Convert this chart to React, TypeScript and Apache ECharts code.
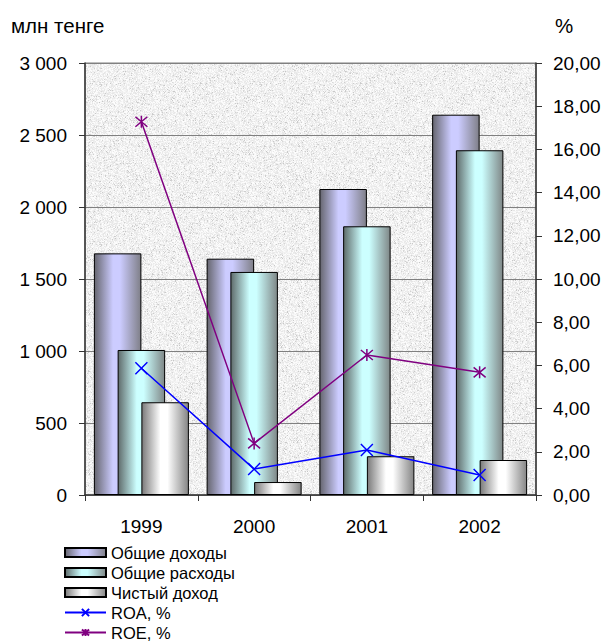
import React, { useEffect, useRef } from "react";
import * as echarts from "echarts";

const years = ["1999", "2000", "2001", "2002"];
const totalIncome = [1678, 1641, 2125, 2641];
const totalExpenses = [1007, 1549, 1866, 2394];
const netIncome = [644, 90, 269, 243];
const roa = [5.87, 1.2, 2.08, 0.93];
const roe = [17.28, 2.39, 6.48, 5.68];

const seriesNames = ["Общие доходы", "Общие расходы", "Чистый доход", "ROA, %", "ROE, %"];
const leftAxisName = "млн тенге";
const rightAxisName = "%";
const leftMin = 0, leftMax = 3000, leftStep = 500;
const rightMin = 0, rightMax = 20, rightStep = 2;

const FONT = '"Liberation Sans", Arial, sans-serif';

function makeTexture(): string {
  const size = 160;
  const c = document.createElement("canvas");
  c.width = size;
  c.height = size;
  const ctx = c.getContext("2d");
  if (!ctx) return "";
  const img = ctx.createImageData(size, size);
  let seed = 12345;
  const rnd = () => {
    seed = (seed * 1103515245 + 12345) & 0x7fffffff;
    return seed / 0x7fffffff;
  };
  for (let i = 0; i < size * size; i++) {
    let v = 228 + rnd() * 26;
    const r = rnd();
    if (r < 0.06) v = 198 + rnd() * 20;
    else if (r > 0.94) v = 252;
    img.data[i * 4] = v;
    img.data[i * 4 + 1] = v;
    img.data[i * 4 + 2] = v;
    img.data[i * 4 + 3] = 255;
  }
  ctx.putImageData(img, 0, 0);
  return c.toDataURL("image/png");
}

function barGradient(edgeL: string, mid: string, edgeR: string) {
  return new echarts.graphic.LinearGradient(0, 0, 1, 0, [
    { offset: 0, color: edgeL },
    { offset: 0.4, color: mid },
    { offset: 0.55, color: mid },
    { offset: 1, color: edgeR },
  ]);
}

const crossPath = "path://M0,0L10,10M10,0L0,10";
const starPath = "path://M0,0L10,10M10,0L0,10M5,-1L5,11";

export default function App() {
  const ref = useRef<HTMLDivElement>(null);
  useEffect(() => {
    document.body.style.margin = "0";
    if (!ref.current) return;
    const chart = echarts.init(ref.current, null, { renderer: "svg" });
    const tex = makeTexture();
    const bg: any = tex ? { image: tex, repeat: "repeat" } : "#e6e6e6";
    const axisLabel = { color: "#000", fontSize: 19, fontFamily: FONT };
    chart.setOption({
      animation: false,
      textStyle: { fontFamily: FONT },
      grid: {
        left: 85,
        right: 69,
        top: 63,
        bottom: 147,
        show: true,
        backgroundColor: bg,
        borderColor: "#808080",
        borderWidth: 1,
      },
      graphic: [
        { type: "text", left: 11, top: 15, style: { text: leftAxisName, fontSize: 20.5, fontFamily: FONT, fill: "#000" } },
        { type: "text", left: 555, top: 15, style: { text: rightAxisName, fontSize: 20.5, fontFamily: FONT, fill: "#000" } },
      ],
      legend: {
        orient: "vertical",
        left: 64,
        top: 544,
        height: 130,
        padding: 0,
        itemWidth: 41,
        itemHeight: 9,
        itemGap: 3,
        textStyle: { color: "#000", fontSize: 16.5, fontFamily: FONT, lineHeight: 16 },
        data: [
          { name: seriesNames[0], icon: "rect" },
          { name: seriesNames[1], icon: "rect" },
          { name: seriesNames[2], icon: "rect" },
          { name: seriesNames[3] },
          { name: seriesNames[4] },
        ],
      },
      xAxis: {
        type: "category",
        data: years,
        axisLine: { lineStyle: { color: "#333", width: 1.5 } },
        axisTick: { show: true, length: 6, lineStyle: { color: "#333" } },
        axisLabel: { ...axisLabel, margin: 22 },
      },
      yAxis: [
        {
          type: "value",
          min: leftMin,
          max: leftMax,
          interval: leftStep,
          axisLine: { show: true, lineStyle: { color: "#333", width: 1.5 } },
          axisTick: { show: true, length: 6, lineStyle: { color: "#333" } },
          axisLabel: {
            ...axisLabel,
            margin: 18,
            formatter: (v: number) => String(v).replace(/\B(?=(\d{3})+(?!\d))/g, " "),
          },
          splitLine: { show: true, lineStyle: { color: "#808080", width: 1 } },
        },
        {
          type: "value",
          min: rightMin,
          max: rightMax,
          interval: rightStep,
          position: "right",
          axisLine: { show: true, lineStyle: { color: "#333", width: 1.5 } },
          axisTick: { show: true, length: 6, lineStyle: { color: "#333" } },
          axisLabel: {
            ...axisLabel,
            margin: 17,
            formatter: (v: number) => v.toFixed(2).replace(".", ","),
          },
          splitLine: { show: false },
        },
      ],
      series: [
        {
          name: seriesNames[0],
          type: "bar",
          data: totalIncome,
          barWidth: 47.5,
          barGap: "-50%",
          itemStyle: {
            color: barGradient("#66666f", "#ccccff", "#7f7f88"),
            borderColor: "#000",
            borderWidth: 1,
          },
        },
        {
          name: seriesNames[1],
          type: "bar",
          data: totalExpenses,
          barWidth: 47.5,
          barGap: "-50%",
          itemStyle: {
            color: barGradient("#5f6b6b", "#ccffff", "#7f8787"),
            borderColor: "#000",
            borderWidth: 1,
          },
        },
        {
          name: seriesNames[2],
          type: "bar",
          data: netIncome,
          barWidth: 47.5,
          barGap: "-50%",
          itemStyle: {
            color: barGradient("#7a7a7a", "#ffffff", "#858585"),
            borderColor: "#000",
            borderWidth: 1,
          },
        },
        {
          name: seriesNames[3],
          type: "line",
          yAxisIndex: 1,
          data: roa,
          symbol: crossPath,
          symbolSize: 12,
          lineStyle: { color: "#0000ff", width: 1.5 },
          itemStyle: { color: "#0000ff", borderColor: "#0000ff", borderWidth: 1.5 },
        },
        {
          name: seriesNames[4],
          type: "line",
          yAxisIndex: 1,
          data: roe,
          symbol: starPath,
          symbolSize: 12,
          lineStyle: { color: "#800080", width: 1.5 },
          itemStyle: { color: "#800080", borderColor: "#800080", borderWidth: 1.5 },
        },
      ],
    });
    return () => chart.dispose();
  }, []);
  return <div ref={ref} style={{ width: 605, height: 642 }} />;
}
